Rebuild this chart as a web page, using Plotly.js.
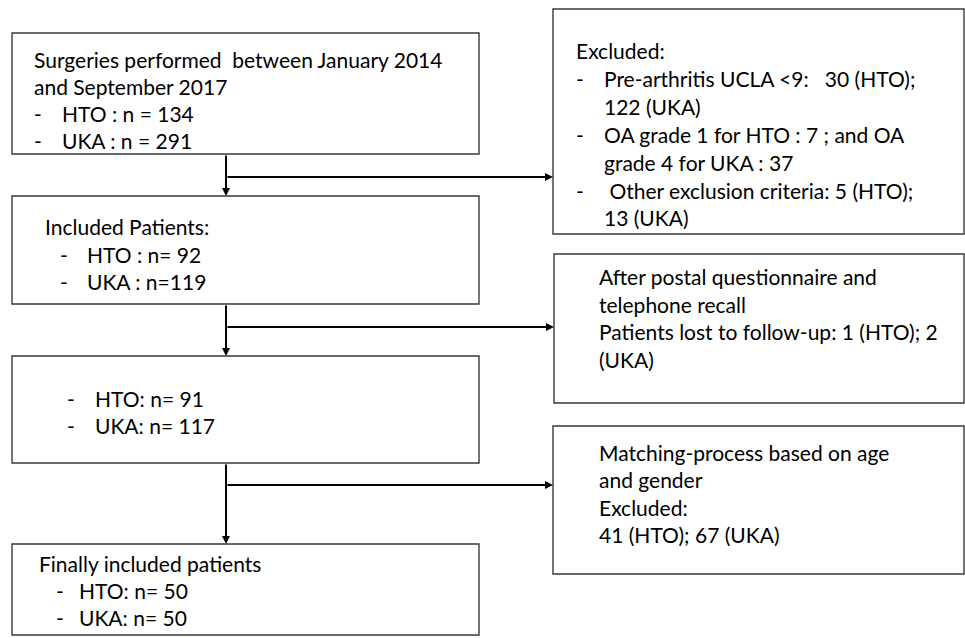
<!DOCTYPE html>
<html>
<head>
<meta charset="utf-8">
<script src="https://cdn.plot.ly/plotly-3.0.1.min.js"></script>
<style>html,body{margin:0;padding:0;background:#fff;}#chart{width:965px;height:638px;}</style>
</head>
<body>
<div id="chart"></div>
<script>
// ---- Content (flow-chart texts and counts) ----
const stepTitles = [
  "Surgeries performed \u00a0between January 2014",
  "Included Patients:",
  "",
  "Finally included patients"
];
const stepTitleCont = ["and September 2017", "", "", ""];
const htoCounts = [134, 92, 91, 50];
const ukaCounts = [291, 119, 117, 50];
const htoLabels = ["HTO : n = ", "HTO : n= ", "HTO: n= ", "HTO: n= "];
const ukaLabels = ["UKA : n = ", "UKA : n=", "UKA: n= ", "UKA: n= "];

const excl1Lines = [
  "Excluded:",
  "-",
  "122 (UKA)",
  "-",
  "grade 4 for UKA : 37",
  "-",
  "13 (UKA)"
];
const excl1Items = ["", "Pre-arthritis UCLA <9: \u00a0 30 (HTO);", "", "OA grade 1 for HTO : 7 ; and OA", "", "\u00a0Other exclusion criteria: 5 (HTO);", ""];
const excl2Lines = ["After postal questionnaire and", "telephone recall", "Patients lost to follow-up: 1 (HTO); 2", "(UKA)"];
const excl3Lines = ["Matching-process based on age", "and gender", "Excluded:", "41 (HTO); 67 (UKA)"];

// ---- Layout geometry (pixels, y downward) ----
const leftBoxes = [[12,33,479,154],[12,196,479,304],[12,356,479,463],[12,544,479,635]];
const rightBoxes = [[553,9,964,234],[554,254,964,403],[553,426,964,574]];
const branchY = [177, 327, 485];
const stemX = 226;
const PADX = 3; // annotation inner padding compensation

const FONT = {family: "Lato, 'Open Sans', sans-serif", size: 21, color: "#000"};
const shapes = [];
const annotations = [];

function box(b){
  shapes.push({type:"rect", xref:"x", yref:"y", x0:b[0], y0:b[1], x1:b[2], y1:b[3],
    line:{color:"#3a3a3a", width:1.4}, fillcolor:"rgba(0,0,0,0)"});
}
function txt(x, y, s){
  if(!s) return;
  annotations.push({x:x - PADX, y:y, xref:"x", yref:"y", text:s, showarrow:false,
    xanchor:"left", yanchor:"middle", font:FONT});
}
function arrow(x0,y0,x1,y1){
  annotations.push({x:x1, y:y1, ax:x0, ay:y0, xref:"x", yref:"y", axref:"x", ayref:"y",
    text:"", showarrow:true, arrowhead:2, arrowsize:0.8, arrowwidth:2, arrowcolor:"#000", standoff:0, startstandoff:0});
}

leftBoxes.forEach(box);
rightBoxes.forEach(box);

// arrows
for(let i=0;i<3;i++){
  arrow(stemX, leftBoxes[i][3], stemX, leftBoxes[i+1][1]);
  arrow(stemX, branchY[i], rightBoxes[i][0], branchY[i]);
}

// Box 1
txt(35, 59, stepTitles[0]);
txt(35, 86, stepTitleCont[0]);
txt(35, 113, "-"); txt(63, 113, htoLabels[0] + htoCounts[0]);
txt(35, 140, "-"); txt(63, 140, ukaLabels[0] + ukaCounts[0]);
// Box 2
txt(46, 226, stepTitles[1]);
txt(61, 254, "-"); txt(88, 254, htoLabels[1] + htoCounts[1]);
txt(61, 281, "-"); txt(88, 281, ukaLabels[1] + ukaCounts[1]);
// Box 3
txt(68, 398, "-"); txt(96, 398, htoLabels[2] + htoCounts[2]);
txt(68, 425, "-"); txt(96, 425, ukaLabels[2] + ukaCounts[2]);
// Box 4
txt(40, 563, stepTitles[3]);
txt(57, 590, "-"); txt(80, 590, htoLabels[3] + htoCounts[3]);
txt(57, 617, "-"); txt(80, 617, ukaLabels[3] + ukaCounts[3]);

// Right box 1
const r1Y = [50, 78, 106, 134, 162, 190, 217];
excl1Lines.forEach((s,i)=>{
  const x = (i===0 || s==="-") ? 577 : 605;
  txt(x, r1Y[i], s);
  if(excl1Items[i]) txt(605, r1Y[i], excl1Items[i]);
});
// Right box 2
[276, 304, 331, 359].forEach((y,i)=>txt(600, y, excl2Lines[i]));
// Right box 3
[452, 479, 507, 534].forEach((y,i)=>txt(600, y, excl3Lines[i]));

const layout = {
  width:965, height:638,
  margin:{l:0,r:0,t:0,b:0},
  paper_bgcolor:"#fff", plot_bgcolor:"#fff",
  xaxis:{range:[0,965], visible:false, fixedrange:true},
  yaxis:{range:[638,0], visible:false, fixedrange:true},
  shapes:shapes, annotations:annotations, showlegend:false
};
Plotly.newPlot("chart", [{x:[], y:[], type:"scatter"}], layout, {staticPlot:true, displayModeBar:false});
</script>
</body>
</html>
